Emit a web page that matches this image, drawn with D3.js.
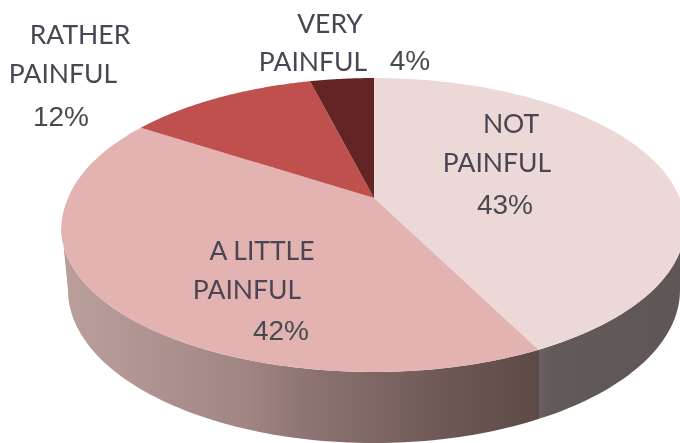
<!DOCTYPE html>
<html>
<head>
<meta charset="utf-8">
<script src="https://cdn.jsdelivr.net/npm/d3@7"></script>
<style>
    html, body { margin: 0; padding: 0; background: #fff; }
    svg { display: block; }
    .name { font-family: Lato, sans-serif; font-size: 26.5px; fill: #4a4453; filter: url(#soft); }
    .pct { font-family: "Liberation Sans", Arial, sans-serif; font-size: 28px; fill: #474b4d; filter: url(#soft); }
</style>
</head>
<body>
<div id="chart"></div>
<script>
const categories = ["NOT PAINFUL", "A LITTLE PAINFUL", "RATHER PAINFUL", "VERY PAINFUL"];
const values = [43, 42, 12, 4];
const topColours = ["#ecd8d6", "#e2b3b1", "#c0504d", "#632523"];

const width = 680;
const height = 443;

// perspective of the disc: far side is squashed, near side is stretched
const tilt = 0.1837;
const topFace = { x: 374, y: 198, rx: 305.8, ry: 142, bulge: 4 };
const bottomFace = { x: 374, y: 262, rx: 300.8, ry: 147.8, bulge: 0 };

const project = (face, angle) => {
    const w = 1 + tilt * Math.cos(angle);
    // the original is a little fuller on the lower left
    const extra = (angle > Math.PI && angle < Math.PI * 1.5) ? face.bulge * Math.sin(2 * (angle - Math.PI)) : 0;
    return [face.x + face.rx * Math.sin(angle) / w - extra, face.y - face.ry * Math.cos(angle) / w];
};

const arcPoints = (face, a0, a1) => {
    return d3.range(0, 121).map(i => project(face, a0 + (a1 - a0) * i / 120));
};

const line = d3.line();

const svg = d3.select("#chart")
    .append("svg")
    .attr("width", width)
    .attr("height", height)
    .attr("viewBox", [0, 0, width, height]);

const slices = d3.pie().sort(null).value(d => d)(values);

const defs = svg.append("defs");

defs.append("filter")
    .attr("id", "soft")
    .append("feGaussianBlur")
    .attr("stdDeviation", 0.4);

// wall shading runs left to right, hard step where the first slice ends
const wallX = d3.scaleLinear().domain([62, 680]).range([0, 1]);
const stepX = project(topFace, slices[0].endAngle)[0];
const wallStops = [
    [70, "#ba9e9c"], [150, "#ae9391"], [250, "#9f8482"], [300, "#8f7573"], [450, "#6c5754"],
    [stepX, "#5d4a47"], [stepX, "#6a6260"], [stepX + 14, "#625a58"], [680, "#5f5755"]
];

defs.append("linearGradient")
    .attr("id", "wall")
    .attr("gradientUnits", "userSpaceOnUse")
    .attr("x1", 62).attr("x2", 680).attr("y1", 0).attr("y2", 0)
    .selectAll("stop")
    .data(wallStops)
    .enter()
    .append("stop")
    .attr("offset", d => wallX(d[0]))
    .attr("stop-color", d => d[1]);

// side wall first, only the part facing the viewer
const nearStart = Math.acos(-tilt);
const nearEnd = Math.PI * 2 - nearStart;

svg.append("path")
    .attr("fill", "url(#wall)")
    .attr("d", line(arcPoints(topFace, nearStart, nearEnd).concat(arcPoints(bottomFace, nearEnd, nearStart))) + "Z");

// top of the pie
svg.append("g")
    .selectAll("path")
    .data(slices)
    .enter()
    .append("path")
    .attr("fill", (d, i) => topColours[i])
    .attr("d", d => line([[topFace.x, topFace.y]].concat(arcPoints(topFace, d.startAngle, d.endAngle))) + "Z");

// labels
const nameLabels = [
    ["RATHER", 80, 44],
    ["PAINFUL", 63, 83],
    ["VERY", 330, 33],
    ["PAINFUL", 313, 71],
    ["NOT", 511, 133],
    ["PAINFUL", 497, 172],
    ["A LITTLE", 262, 260],
    ["PAINFUL", 247, 299]
];
const pctLabels = [
    [values[2] + "%", 61, 126],
    [values[3] + "%", 410, 70],
    [values[0] + "%", 505, 214],
    [values[1] + "%", 281, 340]
];

svg.append("g")
    .selectAll("text")
    .data(nameLabels)
    .enter()
    .append("text")
    .attr("class", "name")
    .attr("text-anchor", "middle")
    .attr("x", d => d[1])
    .attr("y", d => d[2])
    .text(d => d[0]);

svg.append("g")
    .selectAll("text")
    .data(pctLabels)
    .enter()
    .append("text")
    .attr("class", "pct")
    .attr("text-anchor", "middle")
    .attr("x", d => d[1])
    .attr("y", d => d[2])
    .text(d => d[0]);
</script>
</body>
</html>
